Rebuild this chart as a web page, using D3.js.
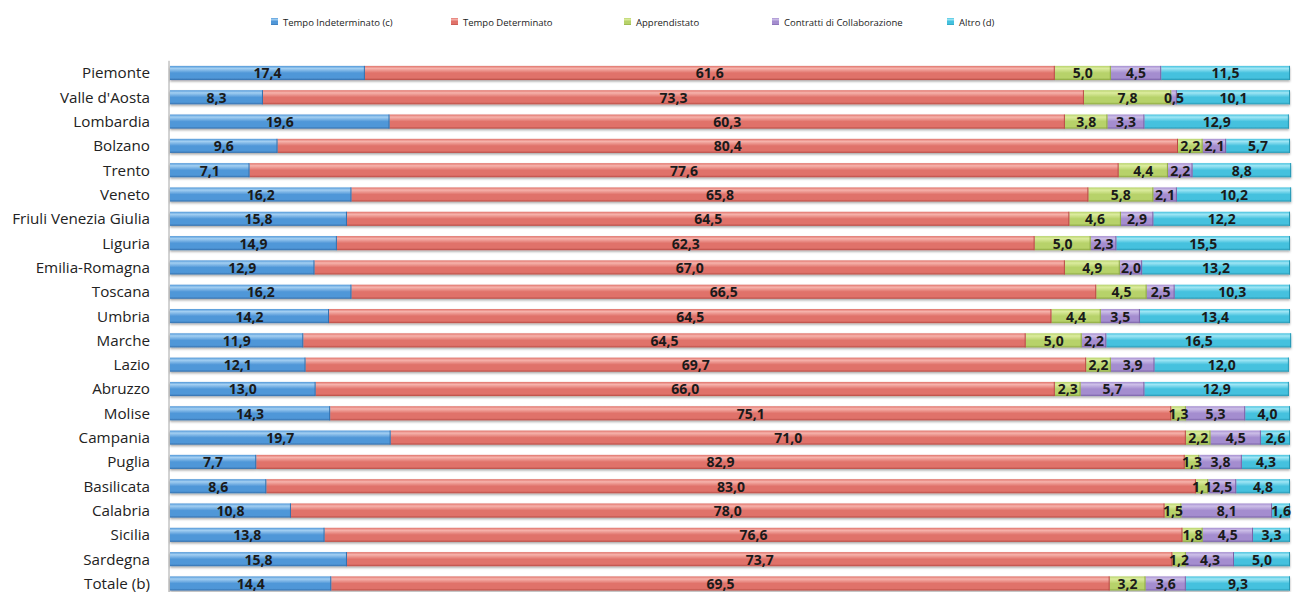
<!DOCTYPE html>
<html>
<head>
<meta charset="utf-8" />
<title>Contratti per regione</title>
<script src="https://cdn.jsdelivr.net/npm/d3@7"></script>
<style>
body { margin: 0; background: #fff; }
svg text { font-family: "Open Sans", "DejaVu Sans", sans-serif; }
</style>
</head>
<body>
<div id="chart"></div>
<script>
const regions = ["Piemonte","Valle d'Aosta","Lombardia","Bolzano","Trento","Veneto","Friuli Venezia Giulia","Liguria","Emilia-Romagna","Toscana","Umbria","Marche","Lazio","Abruzzo","Molise","Campania","Puglia","Basilicata","Calabria","Sicilia","Sardegna","Totale (b)"];
const series = ["Tempo Indeterminato (c)","Tempo Determinato","Apprendistato","Contratti di Collaborazione","Altro (d)"];

const indeterminato = [17.4,8.3,19.6,9.6,7.1,16.2,15.8,14.9,12.9,16.2,14.2,11.9,12.1,13.0,14.3,19.7,7.7,8.6,10.8,13.8,15.8,14.4];
const determinato   = [61.6,73.3,60.3,80.4,77.6,65.8,64.5,62.3,67.0,66.5,64.5,64.5,69.7,66.0,75.1,71.0,82.9,83.0,78.0,76.6,73.7,69.5];
const apprendistato = [5.0,7.8,3.8,2.2,4.4,5.8,4.6,5.0,4.9,4.5,4.4,5.0,2.2,2.3,1.3,2.2,1.3,1.1,1.5,1.8,1.2,3.2];
const collaborazione= [4.5,0.5,3.3,2.1,2.2,2.1,2.9,2.3,2.0,2.5,3.5,2.2,3.9,5.7,5.3,4.5,3.8,2.5,8.1,4.5,4.3,3.6];
const altro         = [11.5,10.1,12.9,5.7,8.8,10.2,12.2,15.5,13.2,10.3,13.4,16.5,12.0,12.9,4.0,2.6,4.3,4.8,1.6,3.3,5.0,9.3];

const colors = [
  {light:"#a3cff2", base:"#5097d8", dark:"#3470ad"},
  {light:"#f6b3ac", base:"#e0726a", dark:"#b94c45"},
  {light:"#dcec9f", base:"#b7d26a", dark:"#8ca840"},
  {light:"#cdbfe8", base:"#a48dcf", dark:"#7a62a8"},
  {light:"#9fe6f5", base:"#44c1de", dark:"#2898b4"}
];
const legendX = [275, 455, 628, 776, 951];

const width = 1299, height = 592;
const margin = {top: 60.8, left: 169};
const step = 24.31;

const rows = regions.map((r, i) => ({
  region: r,
  values: [indeterminato[i], determinato[i], apprendistato[i], collaborazione[i], altro[i]]
}));

const svg = d3.select("#chart").append("svg")
  .attr("width", width).attr("height", height);

const defs = svg.append("defs");
colors.forEach((c, i) => {
  const g = defs.append("linearGradient").attr("id", "grad" + i)
    .attr("x1", 0).attr("y1", 0).attr("x2", 0).attr("y2", 1);
  g.append("stop").attr("offset", "0%").attr("stop-color", c.base);
  g.append("stop").attr("offset", "18%").attr("stop-color", c.light);
  g.append("stop").attr("offset", "50%").attr("stop-color", c.base);
  g.append("stop").attr("offset", "85%").attr("stop-color", c.base);
  g.append("stop").attr("offset", "100%").attr("stop-color", c.dark);
});
const shadow = defs.append("filter").attr("id", "shadow")
  .attr("x", "-5%").attr("y", "-50%").attr("width", "110%").attr("height", "200%");
shadow.append("feDropShadow").attr("dx", 0).attr("dy", 1.5).attr("stdDeviation", 1)
  .attr("flood-color", "#000").attr("flood-opacity", 0.35);

const x = d3.scaleLinear().domain([0, 100]).range([margin.left + 1, margin.left + 1121]);
const y = d3.scaleBand().domain(regions)
  .range([margin.top, margin.top + step * regions.length])
  .paddingInner(0.42).paddingOuter(0.21);

// asse categorie
const yAxis = d3.axisLeft(y).tickSize(0).tickPadding(19);
const ag = svg.append("g").attr("transform", `translate(${margin.left},0)`).call(yAxis);
ag.select(".domain").attr("stroke", "#a6a6a6").attr("d", `M0,${margin.top}V${height}`);
ag.selectAll("text").attr("font-size", 15.2).attr("fill", "#222").attr("dy", "0.36em");

// barre impilate
const stack = rows.map(r => {
  let acc = 0;
  return r.values.map((v, k) => {
    const seg = {region: r.region, k: k, v: v, x0: acc, x1: acc + v};
    acc += v;
    return seg;
  });
});

const rowG = svg.append("g").selectAll("g").data(stack).join("g")
  .attr("filter", "url(#shadow)");
rowG.selectAll("rect").data(d => d).join("rect")
  .attr("x", d => x(d.x0))
  .attr("y", d => y(d.region))
  .attr("width", d => x(d.x1) - x(d.x0))
  .attr("height", y.bandwidth())
  .attr("fill", d => "url(#grad" + d.k + ")");
rowG.selectAll("line").data(d => d).join("line")
  .attr("x1", d => x(d.x1) - 0.5).attr("x2", d => x(d.x1) - 0.5)
  .attr("y1", d => y(d.region)).attr("y2", d => y(d.region) + y.bandwidth())
  .attr("stroke", d => colors[d.k].dark).attr("stroke-width", 1);

// etichette valori
svg.append("g").selectAll("g").data(stack).join("g")
  .selectAll("text").data(d => d).join("text")
  .attr("x", d => x((d.x0 + d.x1) / 2))
  .attr("y", d => y(d.region) + y.bandwidth() / 2 + 5.5)
  .attr("text-anchor", "middle")
  .attr("font-size", 14).attr("font-weight", "bold").attr("fill", "#1a1a1a")
  .text(d => d3.format(".1f")(d.v).replace(".", ","));

// legenda
const lg = svg.append("g").selectAll("g").data(series).join("g")
  .attr("transform", (d, i) => `translate(${legendX[i]},22)`);
lg.append("rect").attr("x", -4).attr("y", -4).attr("width", 7).attr("height", 7)
  .attr("fill", (d, i) => "url(#grad" + i + ")");
lg.append("text").attr("x", 8).attr("y", 3.5)
  .attr("font-size", 9.5).attr("fill", "#222").text(d => d);
</script>
</body>
</html>
